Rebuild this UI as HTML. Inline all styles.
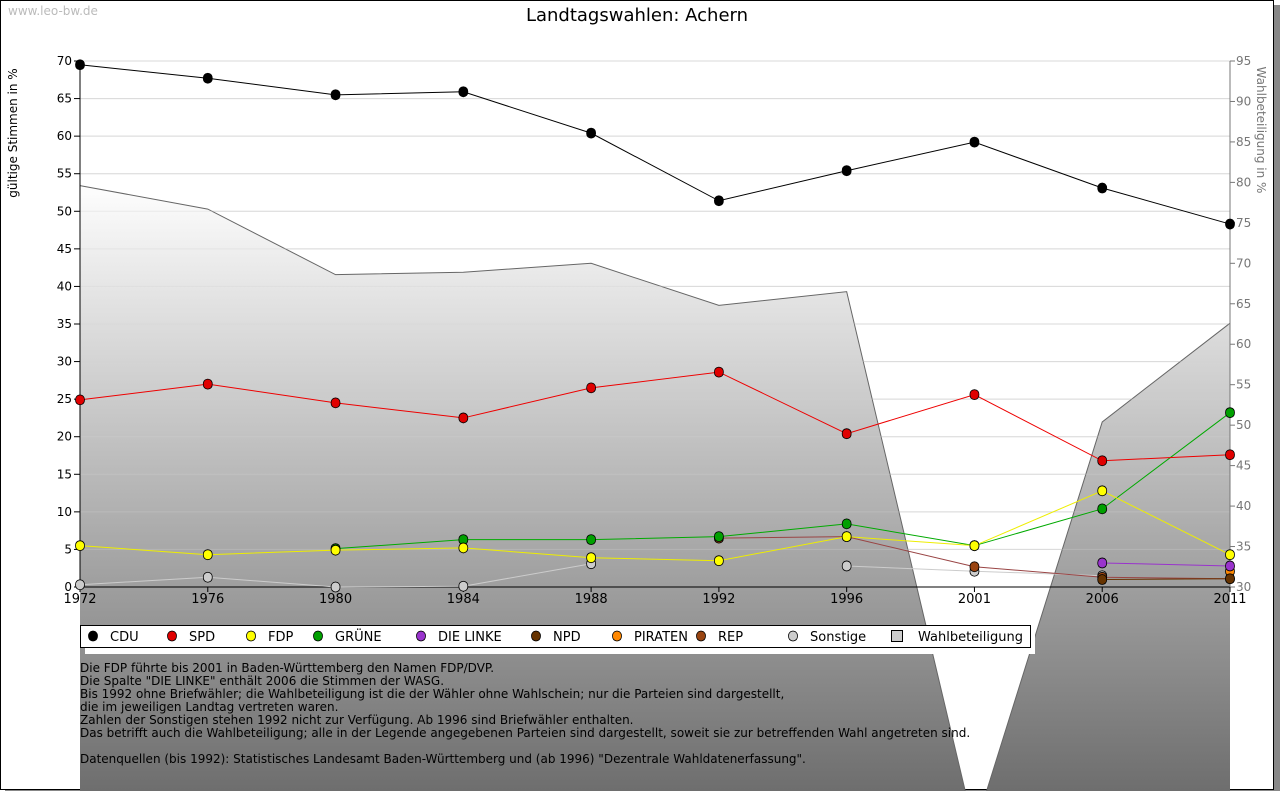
<!DOCTYPE html>
<html><head><meta charset="utf-8"><style>
body{margin:0;background:#fff}
svg text{font-family:"DejaVu Sans","Liberation Sans",sans-serif}
</style></head><body>
<svg id="c" width="1280" height="791" xmlns="http://www.w3.org/2000/svg">
<defs>
<linearGradient id="ag" gradientUnits="userSpaceOnUse" x1="0" y1="180" x2="0" y2="791">
<stop offset="0" stop-color="#ffffff"/><stop offset="1" stop-color="#6e6e6e"/></linearGradient>
</defs>
<rect x="5" y="5" width="1275" height="786" fill="#888"/>
<rect x="0.5" y="0.5" width="1273" height="789" fill="#fff" stroke="#000"/>
<text x="8" y="15" font-size="12" fill="#bbb">www.leo-bw.de</text>
<text x="637" y="21" font-size="18" text-anchor="middle">Landtagswahlen: Achern</text>
<g id="grid"></g>
<g id="area"></g>
<g id="grid2"></g>
<g id="axes"></g>
<g id="series"></g>
<text transform="translate(17,133) rotate(-90)" font-size="12" text-anchor="middle">gültige Stimmen in %</text>
<text transform="translate(1257,130) rotate(90)" font-size="12" fill="#777" text-anchor="middle">Wahlbeteiligung in %</text>
<g id="legend"></g>
<g font-size="12">
<text x="80" y="672">Die FDP führte bis 2001 in Baden-Württemberg den Namen FDP/DVP.</text>
<text x="80" y="685">Die Spalte "DIE LINKE" enthält 2006 die Stimmen der WASG.</text>
<text x="80" y="698">Bis 1992 ohne Briefwähler; die Wahlbeteiligung ist die der Wähler ohne Wahlschein; nur die Parteien sind dargestellt,</text>
<text x="80" y="711">die im jeweiligen Landtag vertreten waren.</text>
<text x="80" y="724">Zahlen der Sonstigen stehen 1992 nicht zur Verfügung. Ab 1996 sind Briefwähler enthalten.</text>
<text x="80" y="737">Das betrifft auch die Wahlbeteiligung; alle in der Legende angegebenen Parteien sind dargestellt, soweit sie zur betreffenden Wahl angetreten sind.</text>
<text x="80" y="763">Datenquellen (bis 1992): Statistisches Landesamt Baden-Württemberg und (ab 1996) "Dezentrale Wahldatenerfassung".</text>
</g>
</svg>
<script>
const years=["1972","1976","1980","1984","1988","1992","1996","2001","2006","2011"];
const turnout=[79.6,76.7,68.6,68.9,70.0,64.8,66.5,0,50.4,62.6];
const cdu=[69.5,67.7,65.5,65.9,60.4,51.4,55.4,59.2,53.1,48.3];
const spd=[24.9,27.0,24.5,22.5,26.5,28.6,20.4,25.6,16.8,17.6];
const fdp=[5.5,4.3,4.9,5.2,3.9,3.5,6.7,5.5,12.8,4.3];
const gruene=[null,null,5.1,6.3,6.3,6.7,8.4,5.5,10.4,23.2];
const linke=[null,null,null,null,null,null,null,null,3.2,2.8];
const npd=[null,null,null,null,null,null,null,null,1.0,1.1];
const piraten=[null,null,null,null,null,null,null,null,null,2.1];
const rep=[null,null,null,null,null,6.5,6.7,2.7,1.3,1.1];
const sonst=[0.3,1.3,0,0.1,3.1,null,2.8,2.1,1.5,null];
const leftTicks=[0,5,10,15,20,25,30,35,40,45,50,55,60,65,70];
const rightTicks=[30,35,40,45,50,55,60,65,70,75,80,85,90,95];
const NS="http://www.w3.org/2000/svg";
const X0=80,X1=1230,Y0=587,Y1=61;
const xs=i=>X0+i*(X1-X0)/(years.length-1);
const yl=v=>Y0-v*(Y0-Y1)/70;
const yr=v=>Y0-(v-30)*(Y0-Y1)/65;
function mk(p,t,a){const e=document.createElementNS(NS,t);for(const k in a)e.setAttribute(k,a[k]);document.getElementById(p).appendChild(e);return e;}
leftTicks.forEach(v=>{if(v>0){const l=mk('grid','line',{x1:X0,x2:X1,y1:yl(v),y2:yl(v),stroke:'#ddd'});


const l2=mk('grid2','line',{x1:X0,x2:X1,y1:yl(v),y2:yl(v),stroke:'rgba(210,210,210,0.35)'});

}
mk('axes','line',{x1:X0-6,x2:X0,y1:yl(v),y2:yl(v),stroke:'#000'});
const t=mk('axes','text',{x:X0-8,y:yl(v)+4,'font-size':12,'text-anchor':'end'});t.textContent=v;

});
rightTicks.forEach(v=>{mk('axes','line',{x1:X1,x2:X1+5,y1:yr(v),y2:yr(v),stroke:'#777'});
const t=mk('axes','text',{x:X1+6,y:yr(v)+4,'font-size':12,fill:'#777'});t.textContent=v;

});
let d=`M${X0},791`;turnout.forEach((v,i)=>d+=`L${xs(i)},${yr(v)}`);d+=`L${X1},791Z`;
const ar=mk('area','path',{d:d,fill:'url(#ag)'});


let dl='';turnout.forEach((v,i)=>dl+=(i?'L':'M')+xs(i)+','+yr(v));
mk('area','path',{d:dl,fill:'none',stroke:'#666'});
mk('axes','line',{x1:X0,x2:X0,y1:Y1,y2:Y0,stroke:'#000'});
mk('axes','line',{x1:X0,x2:X1,y1:Y0,y2:Y0,stroke:'#000'});
mk('axes','line',{x1:X1,x2:X1,y1:Y1,y2:Y0,stroke:'#777'});
years.forEach((y,i)=>{mk('axes','line',{x1:xs(i),x2:xs(i),y1:Y0,y2:Y0+5,stroke:'#000'});
const t=mk('axes','text',{x:xs(i),y:Y0+16,'font-size':13,'text-anchor':'middle'});t.textContent=y;

});
const S=[["CDU",cdu,"#000","#000"],["SPD",spd,"#e00000","#e00"],["FDP",fdp,"#ffff00","#ee0"],["GRÜNE",gruene,"#00a000","#0a0"],["DIE LINKE",linke,"#9933cc","#93c"],["NPD",npd,"#663300","#630"],["PIRATEN",piraten,"#ff8800","#f80"],["REP",rep,"#994411","#944"],["Sonstige",sonst,"#cccccc","#ccc"]];
function mark(g,x,y,fc){return mk(g,'path',{d:`M${x},${y-5}Q${x+4.5},${y-4.5} ${x+4.5},${y}Q${x+4.5},${y+4.5} ${x},${y+5}Q${x-4.5},${y+4.5} ${x-4.5},${y}Q${x-4.5},${y-4.5} ${x},${y-5}Z`,fill:fc,stroke:'#000','stroke-width':0.8});}
S.slice().reverse().forEach(([n,arr,fc,lc])=>{let p='';let on=false;arr.forEach((v,i)=>{if(v==null){on=false;return;}p+=(on?'L':'M')+xs(i)+','+yl(v);on=true;});
const pl=mk('series','path',{d:p,fill:'none',stroke:lc});


arr.forEach((v,i)=>{if(v==null)return;
const m=mark('series',xs(i),yl(v),fc);

});});
mk('legend','rect',{x:85,y:630,width:950,height:24,fill:'#fff'});
const lb=mk('legend','rect',{x:80.5,y:625.5,width:950,height:22,fill:'#fff',stroke:'#000'});


const LX=[93,172,251,318,421,536,617,701,793,897];
S.forEach(([n,a,fc],i)=>{const x=LX[i],y=636;
mark('legend',x,y,fc);
const t=mk('legend','text',{x:x+17,y:y+5,'font-size':13});t.textContent=n;

});
mk('legend','rect',{x:891.5,y:630.5,width:11,height:11,fill:'#ccc',stroke:'#000'});
const tw=mk('legend','text',{x:918,y:641,'font-size':13});tw.textContent='Wahlbeteiligung';


</script>
</body></html>
